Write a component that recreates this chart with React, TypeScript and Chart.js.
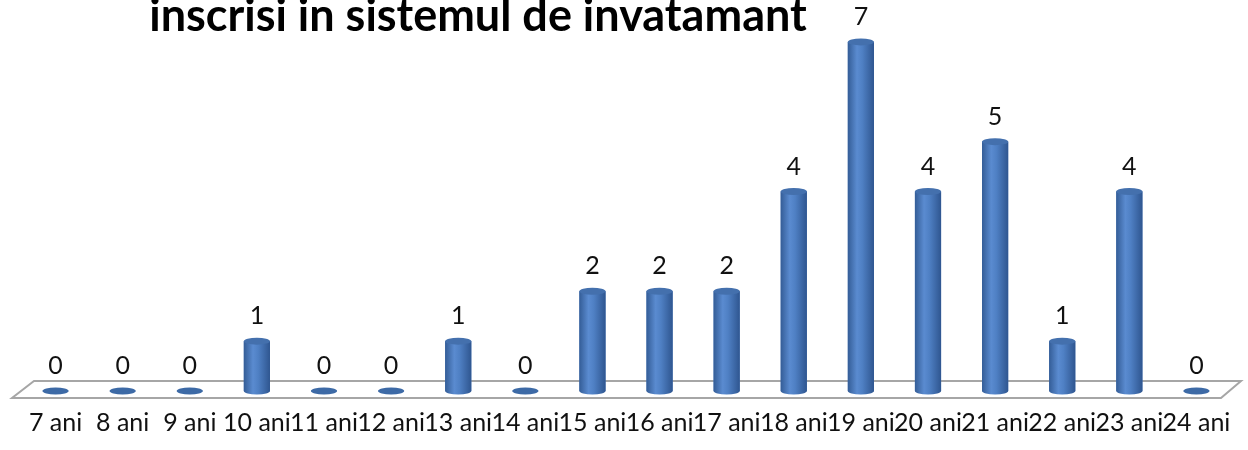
import React, { useEffect, useRef } from "react";
import { Chart, registerables } from "chart.js";

Chart.register(...registerables);

const categories = ["7 ani", "8 ani", "9 ani", "10 ani", "11 ani", "12 ani", "13 ani", "14 ani", "15 ani", "16 ani", "17 ani", "18 ani", "19 ani", "20 ani", "21 ani", "22 ani", "23 ani", "24 ani"];
const values = [0, 0, 0, 1, 0, 0, 1, 0, 2, 2, 2, 4, 7, 4, 5, 1, 4, 0];
const titleText = "inscrisi in sistemul de invatamant";

const FONT = "Lato, 'Open Sans', 'Liberation Sans', sans-serif";
const TICK_SIZE = 25;
const TICK_PAD = 17;

function cylGradient(ctx: CanvasRenderingContext2D, x: number, rx: number) {
  const g = ctx.createLinearGradient(x - rx, 0, x + rx, 0);
  g.addColorStop(0, "#345d97");
  g.addColorStop(0.35, "#5a8bd0");
  g.addColorStop(0.55, "#4f80c4");
  g.addColorStop(1, "#2f5690");
  return g;
}

const floorPlugin = {
  id: "floor3d",
  beforeDatasetsDraw(chart: any) {
    const { ctx, scales } = chart;
    const x = scales.x;
    const base = scales.y.getPixelForValue(0);
    ctx.save();
    ctx.beginPath();
    ctx.moveTo(x.left + 12, base - 10);
    ctx.lineTo(x.right + 11, base - 10);
    ctx.lineTo(x.right - 9, base + 7);
    ctx.lineTo(x.left - 10, base + 7);
    ctx.closePath();
    ctx.fillStyle = "#ffffff";
    ctx.fill();
    ctx.lineWidth = 2;
    ctx.strokeStyle = "#a6a6a6";
    ctx.stroke();
    ctx.restore();
  },
  afterDatasetsDraw(chart: any) {
    const { ctx, scales } = chart;
    const meta = chart.getDatasetMeta(0);
    const base = scales.y.getPixelForValue(0);
    ctx.save();
    meta.data.forEach((bar: any, i: number) => {
      const p = bar.getProps(["x", "y", "width", "base"], true);
      const rx = p.width / 2;
      const ry = 3.5;
      const v = values[i];
      if (v === 0) {
        ctx.beginPath();
        ctx.ellipse(p.x, base, rx, ry, 0, 0, Math.PI * 2);
        ctx.fillStyle = "#3d6aa6";
        ctx.fill();
      } else {
        const g = cylGradient(ctx, p.x, rx);
        ctx.fillStyle = g;
        ctx.fillRect(p.x - rx, p.y, rx * 2, base - p.y);
        ctx.beginPath();
        ctx.ellipse(p.x, base, rx, ry, 0, 0, Math.PI);
        ctx.fill();
        ctx.beginPath();
        ctx.ellipse(p.x, p.y, rx, ry, 0, 0, Math.PI * 2);
        ctx.fillStyle = "#4470ad";
        ctx.fill();
      }
      ctx.fillStyle = "#111";
      ctx.font = "25px " + FONT;
      ctx.textAlign = "center";
      ctx.textBaseline = "middle";
      ctx.fillText(String(v), p.x, p.y - 25);
    });
    ctx.restore();
  },
  afterDraw(chart: any) {
    const { ctx } = chart;
    ctx.save();
    ctx.font = "bold 45px " + FONT;
    ctx.fillStyle = "#000";
    ctx.textAlign = "center";
    ctx.textBaseline = "alphabetic";
    ctx.fillText(titleText, 478, 31);
    ctx.restore();
  },
};

export default function App() {
  const ref = useRef<HTMLCanvasElement>(null);
  useEffect(() => {
    if (!ref.current) return;
    const chart = new Chart(ref.current, {
      type: "bar",
      data: {
        labels: categories,
        datasets: [
          {
            data: values,
            backgroundColor: "#4a7bbf",
            borderWidth: 0,
            barPercentage: 0.39,
            categoryPercentage: 1,
          },
        ],
      },
      options: {
        responsive: false,
        animation: false,
        layout: { padding: { left: 22, right: 18, top: 2, bottom: 12 } },
        plugins: { legend: { display: false }, tooltip: { enabled: false }, title: { display: false } },
        scales: {
          x: {
            grid: { display: false, drawTicks: false },
            border: { display: false },
            ticks: { color: "#111", font: { family: FONT, size: TICK_SIZE }, padding: TICK_PAD, maxRotation: 0, autoSkip: false },
            afterFit: (scale: any) => {
              scale.height = TICK_PAD + TICK_SIZE * 1.2;
            },
          },
          y: {
            display: false,
            min: 0,
            max: 7.8,
          },
        },
      },
      plugins: [floorPlugin],
    });
    return () => chart.destroy();
  }, []);
  return (
    <div style={{ position: "absolute", left: 0, top: 0, width: 1248, height: 450, background: "#fff" }}>
      <canvas ref={ref} width={1248} height={450} style={{ display: "block" }} />
    </div>
  );
}
